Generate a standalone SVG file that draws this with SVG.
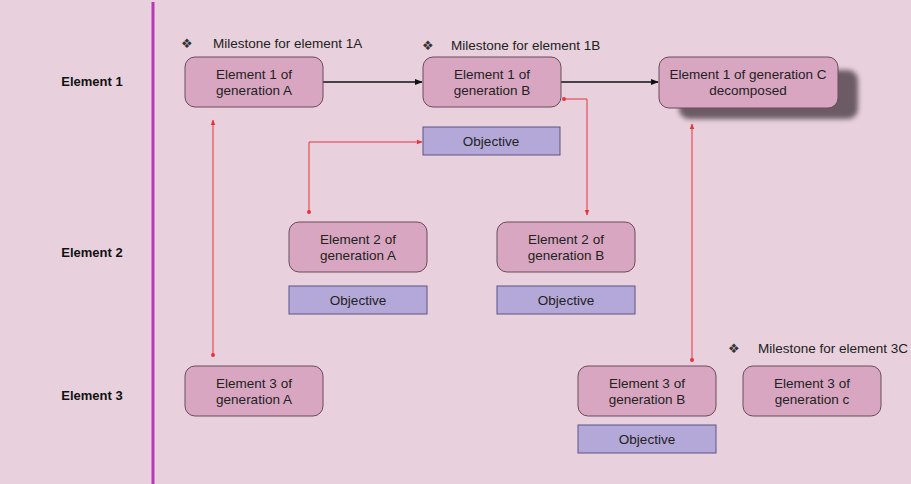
<svg xmlns="http://www.w3.org/2000/svg" width="911" height="484" viewBox="0 0 911 484">
  <defs>
    <style>
      .bg { fill: #e8d1dc; }
      .lane { stroke: #b53bb0; stroke-width: 3; }
      .row { font-family: "Liberation Sans", Arial, sans-serif; font-size: 13px; font-weight: bold; fill: #111; text-anchor: middle; }
      .node { fill: #d9a6c1; stroke: #6b4a5c; stroke-width: 1; }
      .obj { fill: #b3a8d8; stroke: #5d5585; stroke-width: 1; }
      .lbl { font-family: "Liberation Sans", Arial, sans-serif; font-size: 13.5px; fill: #222; text-anchor: middle; }
      .ms { font-family: "Liberation Sans", Arial, sans-serif; font-size: 13.5px; fill: #222; }
      .dia { font-family: "DejaVu Sans", sans-serif; font-size: 13px; fill: #333; }
      .flow { stroke: #111; stroke-width: 1.5; fill: none; }
      .link { stroke: #e8323e; stroke-width: 1; fill: none; }
    </style>
    <marker id="ah" viewBox="0 0 10 10" refX="9" refY="5" markerWidth="8" markerHeight="8" markerUnits="userSpaceOnUse" orient="auto">
      <path d="M0,1 L10,5 L0,9 Z" fill="#111"/>
    </marker>
    <marker id="rah" viewBox="0 0 10 10" refX="9" refY="5" markerWidth="6" markerHeight="6" markerUnits="userSpaceOnUse" orient="auto">
      <path d="M0,1 L10,5 L0,9 Z" fill="#e8323e"/>
    </marker>
    <marker id="rdot" viewBox="0 0 10 10" refX="5" refY="5" markerWidth="4" markerHeight="4" markerUnits="userSpaceOnUse">
      <circle cx="5" cy="5" r="5" fill="#e8323e"/>
    </marker>
    <filter id="shadow" x="-20%" y="-30%" width="150%" height="180%">
      <feGaussianBlur stdDeviation="2.5"/>
    </filter>
  </defs>

  <rect class="bg" x="0" y="0" width="911" height="484"/>
  <line class="lane" x1="153" y1="2" x2="153" y2="484"/>

  <!-- row headings -->
  <text class="row" x="92" y="86">Element 1</text>
  <text class="row" x="92" y="257">Element 2</text>
  <text class="row" x="92" y="400">Element 3</text>

  <!-- milestones -->
  <g id="milestone-1a">
    <text class="dia" x="181" y="48">❖</text>
    <text class="ms" x="213" y="48">Milestone for element 1A</text>
  </g>
  <g id="milestone-1b">
    <text class="dia" x="422" y="50">❖</text>
    <text class="ms" x="451" y="50">Milestone for element 1B</text>
  </g>
  <g id="milestone-3c">
    <text class="dia" x="728" y="353">❖</text>
    <text class="ms" x="758" y="353">Milestone for element 3C</text>
  </g>

  <!-- connectors -->
  <g id="connectors">
    <line class="flow" x1="323" y1="82" x2="422" y2="82" marker-end="url(#ah)"/>
    <line class="flow" x1="561" y1="82" x2="658" y2="82" marker-end="url(#ah)"/>
    <line class="link" x1="213" y1="355" x2="213" y2="120" marker-start="url(#rdot)" marker-end="url(#rah)"/>
    <polyline class="link" points="309,212 309,142 422,142" marker-start="url(#rdot)" marker-end="url(#rah)"/>
    <polyline class="link" points="564,99 587,99 587,215" marker-start="url(#rdot)" marker-end="url(#rah)"/>
    <line class="link" x1="692" y1="360" x2="692" y2="124" marker-start="url(#rdot)" marker-end="url(#rah)"/>
  </g>

  <!-- element 1 -->
  <g id="e1a">
    <rect class="node" x="185" y="57" width="138" height="50" rx="10"/>
    <text class="lbl" x="254" y="79">Element 1 of</text>
    <text class="lbl" x="254" y="95">generation A</text>
  </g>
  <g id="e1b">
    <rect class="node" x="423" y="57" width="138" height="50" rx="10"/>
    <text class="lbl" x="492" y="79">Element 1 of</text>
    <text class="lbl" x="492" y="95">generation B</text>
  </g>
  <g id="e1c">
    <rect x="679" y="70" width="179" height="49" rx="10" fill="#5e5058" opacity="0.9" filter="url(#shadow)"/>
    <rect class="node" x="659" y="57" width="179" height="51" rx="10"/>
    <text class="lbl" x="748" y="79">Element 1 of generation C</text>
    <text class="lbl" x="748" y="95">decomposed</text>
  </g>
  <g id="obj-1b">
    <rect class="obj" x="423" y="127" width="137" height="28"/>
    <text class="lbl" x="491" y="146">Objective</text>
  </g>

  <!-- element 2 -->
  <g id="e2a">
    <rect class="node" x="289" y="222" width="138" height="50" rx="10"/>
    <text class="lbl" x="358" y="244">Element 2 of</text>
    <text class="lbl" x="358" y="260">generation A</text>
  </g>
  <g id="obj-2a">
    <rect class="obj" x="289" y="286" width="138" height="28"/>
    <text class="lbl" x="358" y="305">Objective</text>
  </g>
  <g id="e2b">
    <rect class="node" x="497" y="222" width="138" height="50" rx="10"/>
    <text class="lbl" x="566" y="244">Element 2 of</text>
    <text class="lbl" x="566" y="260">generation B</text>
  </g>
  <g id="obj-2b">
    <rect class="obj" x="497" y="286" width="138" height="28"/>
    <text class="lbl" x="566" y="305">Objective</text>
  </g>

  <!-- element 3 -->
  <g id="e3a">
    <rect class="node" x="185" y="366" width="138" height="50" rx="10"/>
    <text class="lbl" x="254" y="388">Element 3 of</text>
    <text class="lbl" x="254" y="404">generation A</text>
  </g>
  <g id="e3b">
    <rect class="node" x="578" y="366" width="138" height="50" rx="10"/>
    <text class="lbl" x="647" y="388">Element 3 of</text>
    <text class="lbl" x="647" y="404">generation B</text>
  </g>
  <g id="obj-3b">
    <rect class="obj" x="578" y="425" width="138" height="28"/>
    <text class="lbl" x="647" y="444">Objective</text>
  </g>
  <g id="e3c">
    <rect class="node" x="743" y="366" width="138" height="50" rx="10"/>
    <text class="lbl" x="812" y="388">Element 3 of</text>
    <text class="lbl" x="812" y="404">generation c</text>
  </g>
</svg>
